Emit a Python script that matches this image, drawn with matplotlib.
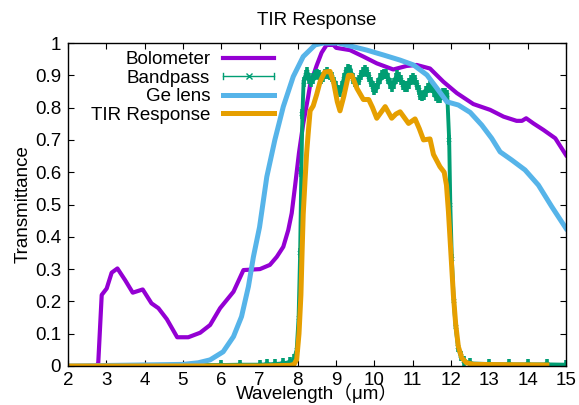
import matplotlib
matplotlib.use("Agg")
import matplotlib.pyplot as plt
from matplotlib.lines import Line2D
from matplotlib.legend_handler import HandlerBase

plt.rcParams['font.family'] = ['Liberation Sans', 'Noto Sans CJK JP', 'DejaVu Sans']

# ---------------- data ----------------
bolo_x = [2.75, 2.79, 2.88, 3.01, 3.14, 3.29, 3.49, 3.69, 3.95, 4.18, 4.36, 4.58, 4.85,
          5.14, 5.45, 5.71, 5.97, 6.32, 6.58, 7.01, 7.27, 7.45, 7.62, 7.75, 7.84, 7.93,
          8.03, 8.14, 8.27, 8.32, 8.49, 8.62, 8.75, 8.93, 9.0, 9.36, 9.71, 10.06, 10.49,
          10.84, 11.1, 11.45, 11.8, 12.15, 12.58, 13.02, 13.37, 13.71, 13.85, 13.96,
          14.15, 14.41, 14.72, 15.0]
bolo_y = [0.0, 0.01, 0.22, 0.24, 0.289, 0.302, 0.266, 0.227, 0.237, 0.194, 0.179, 0.145, 0.089,
          0.089, 0.103, 0.127, 0.179, 0.23, 0.297, 0.30, 0.313, 0.338, 0.369, 0.421, 0.473, 0.56,
          0.66, 0.75, 0.834, 0.87, 0.93, 0.97, 0.994, 0.994, 0.985, 0.978, 0.958, 0.937, 0.918,
          0.929, 0.932, 0.921, 0.88, 0.845, 0.811, 0.793, 0.772, 0.759, 0.759, 0.767,
          0.751, 0.731, 0.705, 0.653]

band_x = [5.5, 6.0, 6.5, 7.0, 7.2, 7.4, 7.6, 7.8, 7.9, 7.97, 8.02, 8.06, 8.09, 8.12,
          8.15, 8.2, 8.25, 8.3, 8.35, 8.4, 8.45, 8.5, 8.55, 8.6, 8.65, 8.7, 8.75, 8.8,
          8.85, 8.9, 8.95, 9.0, 9.05, 9.1, 9.15, 9.2, 9.25, 9.3, 9.35, 9.4, 9.45, 9.5,
          9.55, 9.6, 9.65, 9.7, 9.75, 9.8, 9.85, 9.9, 9.95, 10.0, 10.05, 10.1, 10.15,
          10.2, 10.25, 10.3, 10.35, 10.4, 10.45, 10.5, 10.55, 10.6, 10.65, 10.7, 10.75,
          10.8, 10.85, 10.9, 10.95, 11.0, 11.05, 11.1, 11.15, 11.2, 11.25, 11.3, 11.35,
          11.4, 11.45, 11.5, 11.55, 11.6, 11.65, 11.7, 11.75, 11.8, 11.85, 11.9, 11.95,
          11.98, 12.02, 12.07, 12.12, 12.18, 12.25, 12.35, 12.5, 13.0, 13.5, 14.0, 14.5, 15.0]
band_y = [0.003, 0.003, 0.004, 0.004, 0.005, 0.006, 0.008, 0.012, 0.02, 0.05, 0.15, 0.35, 0.6, 0.78,
          0.88, 0.90, 0.91, 0.89, 0.88, 0.89, 0.90, 0.905, 0.90, 0.89, 0.895, 0.905, 0.91, 0.905,
          0.90, 0.895, 0.88, 0.865, 0.855, 0.85, 0.865, 0.89, 0.91, 0.92, 0.915, 0.905, 0.89, 0.88,
          0.875, 0.885, 0.90, 0.91, 0.915, 0.91, 0.895, 0.88, 0.865, 0.855, 0.86, 0.875, 0.89,
          0.90, 0.905, 0.905, 0.89, 0.875, 0.865, 0.875, 0.89, 0.90, 0.895, 0.885, 0.87,
          0.865, 0.865, 0.875, 0.885, 0.89, 0.885, 0.87, 0.855, 0.84, 0.835, 0.84, 0.85,
          0.86, 0.865, 0.86, 0.85, 0.835, 0.83, 0.83, 0.84, 0.845, 0.845, 0.84, 0.70,
          0.50, 0.33, 0.20, 0.12, 0.06, 0.03, 0.015, 0.008, 0.006, 0.005, 0.005, 0.005, 0.004]

ge_x = [2.0, 5.0, 5.4, 5.71, 6.05, 6.32, 6.53, 6.71, 6.84, 7.0, 7.19, 7.4, 7.62, 7.88,
        8.14, 8.45, 8.67, 9.06, 9.36, 9.8, 10.23, 10.67, 11.02, 11.37, 11.63, 11.89,
        12.19, 12.5, 12.8, 13.06, 13.28, 13.58, 13.93, 14.28, 14.63, 15.0]
ge_y = [0.0, 0.005, 0.01, 0.019, 0.044, 0.091, 0.153, 0.246, 0.338, 0.43, 0.586, 0.70, 0.803, 0.896,
        0.958, 0.994, 1.0, 1.0, 0.991, 0.978, 0.963, 0.947, 0.932, 0.901, 0.86, 0.818,
        0.808, 0.785, 0.746, 0.705, 0.663, 0.638, 0.607, 0.56, 0.493, 0.426]

tir_x = [2.0, 7.0, 7.8, 7.9, 7.97, 8.03, 8.08, 8.11, 8.14, 8.19, 8.23, 8.27, 8.32, 8.4,
         8.49, 8.58, 8.7, 8.84, 8.93, 9.03, 9.1, 9.2, 9.32, 9.41, 9.54, 9.71, 9.85, 9.95,
         10.06, 10.17, 10.28, 10.45, 10.56, 10.67, 10.89, 11.06, 11.17, 11.28, 11.45,
         11.54, 11.71, 11.82, 11.88, 11.93, 12.0, 12.06, 12.12, 12.19, 12.28, 12.4,
         12.6, 13.5, 14.5]
tir_y = [0.0, 0.0, 0.002, 0.005, 0.02, 0.1, 0.22, 0.35, 0.47, 0.58, 0.66, 0.72, 0.79, 0.805,
         0.84, 0.88, 0.91, 0.912, 0.88, 0.818, 0.79, 0.835, 0.90, 0.90, 0.86, 0.825, 0.825, 0.80,
         0.767, 0.785, 0.803, 0.767, 0.78, 0.787, 0.751, 0.765, 0.735, 0.70, 0.703,
         0.655, 0.617, 0.60, 0.56, 0.48, 0.34, 0.22, 0.13, 0.06, 0.025, 0.01,
         0.005, 0.004, 0.003]

labels = ["Bolometer", "Bandpass", "Ge lens", "TIR Response"]
colors = ["#9400d3", "#009e73", "#56b4e9", "#e69f00"]
x_ticks = list(range(2, 16))
y_ticks = [0, 0.1, 0.2, 0.3, 0.4, 0.5, 0.6, 0.7, 0.8, 0.9, 1.0]
y_ticklabels = ["0", "0.1", "0.2", "0.3", "0.4", "0.5", "0.6", "0.7", "0.8", "0.9", "1"]


class HandlerErrBar(HandlerBase):
    def create_artists(self, legend, orig_handle, xdescent, ydescent, width, height,
                       fontsize, trans):
        c = orig_handle.get_color()
        y = height / 2 - ydescent
        x0 = -xdescent
        x1 = x0 + width
        h = height * 0.22
        arts = [Line2D([x0, x1], [y, y], color=c, lw=1.0),
                Line2D([x0, x0], [y - h, y + h], color=c, lw=1.0),
                Line2D([x1, x1], [y - h, y + h], color=c, lw=1.0),
                Line2D([(x0 + x1) / 2], [y], color=c, marker='x', ms=4, mew=1.0, ls='none')]
        for a in arts:
            a.set_transform(trans)
        return arts


fig = plt.figure(figsize=(5.79, 4.05), dpi=100)
ax = fig.add_axes([68 / 579, 1 - 366 / 405, (566 - 68) / 579, (366 - 43) / 405])

h1, = ax.plot(bolo_x, bolo_y, color=colors[0], lw=3.0, solid_joinstyle='round')
ax.errorbar(band_x, band_y, yerr=0.016, fmt='none', ecolor=colors[1], elinewidth=2.6)
ax.plot(band_x, band_y, color=colors[1], lw=2.8, marker='x', ms=3.5, mew=1.2,
        solid_joinstyle='round')
h2 = Line2D([], [], color=colors[1])
h3, = ax.plot(ge_x, ge_y, color=colors[2], lw=3.6, solid_joinstyle='round')
h4, = ax.plot(tir_x, tir_y, color=colors[3], lw=3.6, solid_joinstyle='round')

ax.set_xlim(2, 15)
ax.set_ylim(0, 1)
ax.set_xticks(x_ticks)
ax.set_xticklabels([str(v) for v in x_ticks])
ax.set_yticks(y_ticks)
ax.set_yticklabels(y_ticklabels)
ax.tick_params(direction='in', length=4, width=0.8, top=True, right=True,
               labelsize=13.5, colors='black')
ax.tick_params(axis='x', pad=4)
ax.tick_params(axis='y', pad=5)
for s in ax.spines.values():
    s.set_linewidth(1.0)

ax.set_title("TIR Response", fontsize=13.5, pad=13)
ax.set_xlabel("Wavelength（μm）", fontsize=13.5, labelpad=-4)
ax.set_ylabel("Transmittance", fontsize=13.5, labelpad=2)

leg = ax.legend([h1, h2, h3, h4], labels, handler_map={h2: HandlerErrBar()},
                markerfirst=False, frameon=False, fontsize=13.5,
                loc='upper right', bbox_to_anchor=(274 / 579, 1 - 51 / 405),
                bbox_transform=fig.transFigure, borderaxespad=0, borderpad=0,
                handlelength=2.7, handletextpad=0.7, labelspacing=0.08)

fig.savefig("out.png", dpi=100)
